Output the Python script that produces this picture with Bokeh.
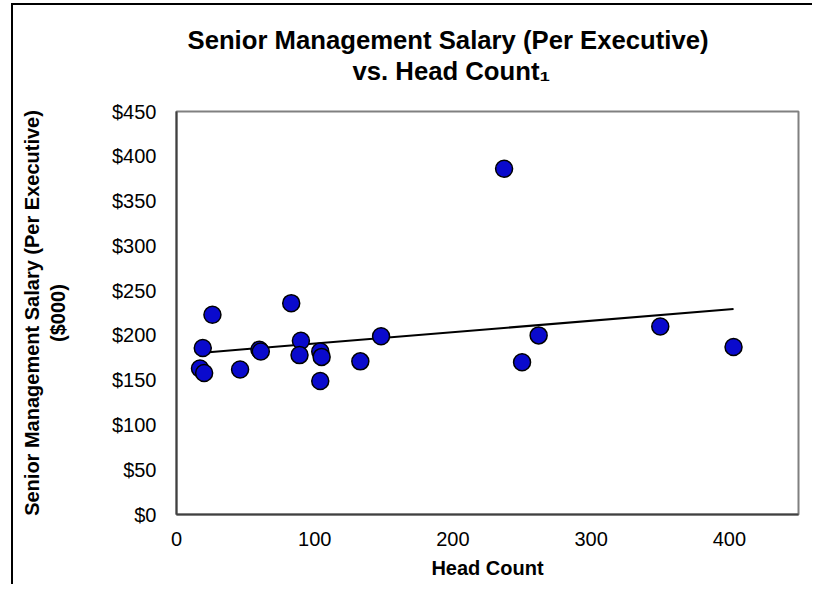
import numpy as np
from bokeh.plotting import figure
from bokeh.models import Range1d, FixedTicker, Title, ColumnDataSource
from bokeh.embed import file_html
from bokeh.resources import INLINE

# ---- data ----
head_count = [26, 83, 19, 17, 20, 46, 60, 61, 90, 89, 104, 105, 104, 133, 148, 237, 250, 262, 350, 403]
salary = [223, 236, 186, 163, 158, 162, 184, 182, 194, 178, 182, 176, 149, 171, 199, 386, 170, 200, 210, 187]
x_ticks = [0, 100, 200, 300, 400]
y_ticks = [0, 50, 100, 150, 200, 250, 300, 350, 400, 450]
y_tick_labels = ["$0", "$50", "$100", "$150", "$200", "$250", "$300", "$350", "$400", "$450"]
title_line1 = "Senior Management Salary (Per Executive)"
title_line2 = "vs. Head Count\u2081"
x_title = "Head Count"
y_title = "Senior Management Salary (Per Executive)\n($000)"

FONT = "Liberation Sans"
W, H = 812, 584
ML, MR, MT, MB = 176, 14, 111, 70

p = figure(width=W, height=H, output_backend="svg", toolbar_location=None,
           x_range=Range1d(0, 450), y_range=Range1d(0, 450),
           min_border_left=ML, min_border_right=MR, min_border_top=MT, min_border_bottom=MB)
p.border_fill_color = None
p.background_fill_color = "white"
p.styles = {
    "background": "linear-gradient(#000, #000) 11px 3px / 2px 100% no-repeat, "
                  "linear-gradient(#000, #000) 11px 3px / 100% 2px no-repeat, white"
}

p.xgrid.visible = False
p.ygrid.visible = False
p.outline_line_color = "#808080"
p.outline_line_width = 2

for ax in (p.xaxis[0], p.yaxis[0]):
    ax.axis_line_color = "#404040"
    ax.axis_line_width = 2
    ax.major_tick_out = 0
    ax.major_tick_in = 0
    ax.minor_tick_out = 0
    ax.minor_tick_in = 0
    ax.major_label_text_font = FONT
    ax.major_label_text_font_size = "20px"
    ax.major_label_text_color = "black"
    ax.axis_label_text_font = FONT
    ax.axis_label_text_font_size = "20px"
    ax.axis_label_text_font_style = "bold"
    ax.axis_label_text_color = "black"

p.xaxis[0].ticker = FixedTicker(ticks=x_ticks)
p.yaxis[0].ticker = FixedTicker(ticks=y_ticks)
p.yaxis[0].major_label_overrides = {t: l for t, l in zip(y_ticks, y_tick_labels)}
p.xaxis[0].major_label_standoff = 17
p.yaxis[0].major_label_standoff = 20
p.xaxis[0].axis_label = x_title
p.xaxis[0].axis_label_standoff = 8
p.yaxis[0].axis_label = y_title
p.yaxis[0].axis_label_standoff = 40

# chart title above the plot area (first added sits closest to the plot)
spacer = Title(text="\u00a0", align="left", offset=0, standoff=14,
               text_font=FONT, text_font_size="10px")
title2 = Title(text=title_line2, align="left", offset=176, standoff=0,
               text_font=FONT, text_font_size="25.7px", text_font_style="bold",
               text_color="black")
title1 = Title(text=title_line1, align="left", offset=11, standoff=2,
               text_font=FONT, text_font_size="25.7px", text_font_style="bold",
               text_color="black")
p.add_layout(spacer, "above")
p.add_layout(title2, "above")
p.add_layout(title1, "above")

# trend line (least squares fit over the data)
xs = np.array(head_count, dtype=float)
ys = np.array(salary, dtype=float)
slope, intercept = np.polyfit(xs, ys, 1)
tx = [xs.min(), xs.max()]
ty = [slope * v + intercept for v in tx]
p.line(tx, ty, line_color="black", line_width=2)

src = ColumnDataSource(dict(x=head_count, y=salary))
p.scatter("x", "y", source=src, marker="circle", size=17,
          fill_color="#0A0ACD", line_color="black", line_width=1.5)

open("out.html", "w").write(file_html(p, INLINE))
